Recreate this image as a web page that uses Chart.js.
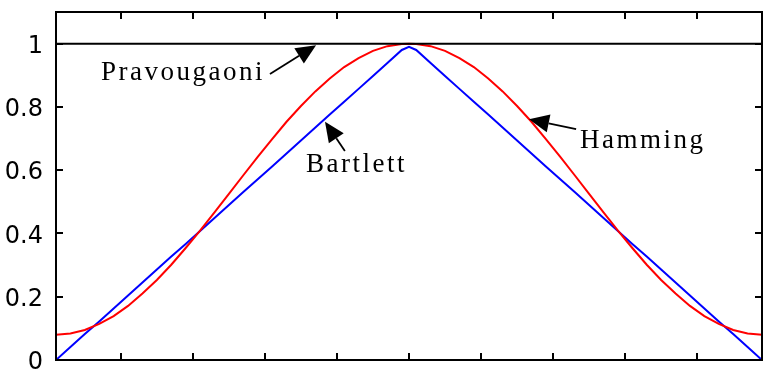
<!DOCTYPE html>
<html>
<head>
<meta charset="utf-8">
<script src="https://cdn.jsdelivr.net/npm/chart.js@4/dist/chart.umd.min.js"></script>
<style>
html,body{margin:0;padding:0;background:#fff;}
#wrap{width:763px;height:388px;}
</style>
</head>
<body>
<div id="wrap"><canvas id="c" width="763" height="388"></canvas></div>
<script>
// sample positions (window index, centred)
const xs = [-49,-47,-45,-43,-41,-39,-37,-35,-33,-31,-29,-27,-25,-23,-21,-19,-17,-15,-13,-11,-9,-7,-5,-3,-1,0,
            1,3,5,7,9,11,13,15,17,19,21,23,25,27,29,31,33,35,37,39,41,43,45,47,49];
const hamming = [0.080,0.084,0.095,0.114,0.139,0.171,0.210,0.253,0.301,0.354,0.409,0.467,0.525,0.584,0.642,0.698,0.753,0.803,0.849,0.890,0.926,0.954,0.977,0.992,0.999,1.000,
                 0.999,0.992,0.977,0.954,0.926,0.890,0.849,0.803,0.753,0.698,0.642,0.584,0.525,0.467,0.409,0.354,0.301,0.253,0.210,0.171,0.139,0.114,0.095,0.084,0.080];
const bartlett = [0.000,0.041,0.082,0.122,0.163,0.204,0.245,0.286,0.327,0.367,0.408,0.449,0.490,0.531,0.571,0.612,0.653,0.694,0.735,0.776,0.816,0.857,0.898,0.939,0.980,0.990,
                  0.980,0.939,0.898,0.857,0.816,0.776,0.735,0.694,0.653,0.612,0.571,0.531,0.490,0.449,0.408,0.367,0.327,0.286,0.245,0.204,0.163,0.122,0.082,0.041,0.000];
const rectX = [-49, 49];
const rectY = [1, 1];
const xTicks = [-40,-30,-20,-10,0,10,20,30,40];
const yTicks = [0,0.2,0.4,0.6,0.8,1];

// annotations: label text, label anchor (data), arrow tail and tip (data)
const notes = [
  {text:'Pravougaoni', tx:-42.75, ty:0.885, ax0:-19.3, ay0:0.904, ax1:-12.9, ay1:0.995},
  {text:'Bartlett',    tx:-14.3,  ty:0.594, ax0:-8.9,  ay0:0.661, ax1:-11.66, ay1:0.753},
  {text:'Hamming',     tx:23.74,  ty:0.670, ax0:23.2,  ay0:0.730, ax1:16.66, ay1:0.761}
];

const boxPlugin = {
  id:'boxPlugin',
  afterDraw(chart){
    const ctx = chart.ctx, a = chart.chartArea;
    const sx = chart.scales.x, sy = chart.scales.y;
    ctx.save();
    ctx.strokeStyle = '#000';
    ctx.lineWidth = 2;
    ctx.strokeRect(a.left, a.top, a.right - a.left, a.bottom - a.top);
    const tl = 7;
    ctx.beginPath();
    xTicks.forEach(v => {
      const p = Math.round(sx.getPixelForValue(v));
      ctx.moveTo(p, a.bottom); ctx.lineTo(p, a.bottom - tl);
      ctx.moveTo(p, a.top); ctx.lineTo(p, a.top + tl);
    });
    yTicks.forEach(v => {
      const p = Math.round(sy.getPixelForValue(v));
      ctx.moveTo(a.left, p); ctx.lineTo(a.left + tl, p);
      ctx.moveTo(a.right, p); ctx.lineTo(a.right - tl, p);
    });
    ctx.stroke();

    // annotations
    ctx.fillStyle = '#000';
    ctx.font = '27px "Liberation Serif", "Times New Roman", serif';
    try { ctx.letterSpacing = '2.5px'; } catch(e) {}
    ctx.textBaseline = 'alphabetic';
    ctx.textAlign = 'left';
    notes.forEach(n => {
      ctx.fillText(n.text, sx.getPixelForValue(n.tx), sy.getPixelForValue(n.ty));
      const x0 = sx.getPixelForValue(n.ax0), y0 = sy.getPixelForValue(n.ay0);
      const x1 = sx.getPixelForValue(n.ax1), y1 = sy.getPixelForValue(n.ay1);
      const ang = Math.atan2(y1 - y0, x1 - x0);
      const hl = 20, hw = 9;
      const bx = x1 - hl * Math.cos(ang), by = y1 - hl * Math.sin(ang);
      ctx.lineWidth = 1.8;
      ctx.beginPath(); ctx.moveTo(x0, y0); ctx.lineTo(bx, by); ctx.stroke();
      ctx.beginPath();
      ctx.moveTo(x1, y1);
      ctx.lineTo(bx + hw * Math.sin(ang), by - hw * Math.cos(ang));
      ctx.lineTo(bx - hw * Math.sin(ang), by + hw * Math.cos(ang));
      ctx.closePath(); ctx.fill();
    });
    ctx.restore();
  }
};

new Chart(document.getElementById('c'), {
  type:'line',
  data:{
    datasets:[
      {data: rectX.map((x,i)=>({x, y: rectY[i]})), borderColor:'#000', borderWidth:2},
      {data: xs.map((x,i)=>({x, y: hamming[i]})), borderColor:'#ff0000', borderWidth:2},
      {data: xs.map((x,i)=>({x, y: bartlett[i]})), borderColor:'#0000ff', borderWidth:2}
    ]
  },
  options:{
    responsive:false,
    animation:false,
    layout:{padding:{top:12, right:1, left:0, bottom:0}},
    elements:{point:{radius:0}, line:{tension:0}},
    plugins:{legend:{display:false}, tooltip:{enabled:false}},
    scales:{
      x:{type:'linear', min:-49, max:49,
         grid:{display:false}, border:{display:false},
         ticks:{display:false},
         afterFit(s){ s.height = 28; s.paddingLeft = 0; s.paddingRight = 0; }},
      y:{type:'linear', min:0, max:1.1,
         grid:{display:false}, border:{display:false},
         afterBuildTicks(s){ s.ticks = yTicks.map(v=>({value:v})); },
         ticks:{color:'#000', padding:5, labelOffset:3,
                font:{family:'"DejaVu Sans"', size:24},
                callback:(v)=>String(v)},
         afterFit(s){ s.width = 56; s.paddingTop = 0; s.paddingBottom = 0; }}
    }
  },
  plugins:[boxPlugin]
});
</script>
</body>
</html>
